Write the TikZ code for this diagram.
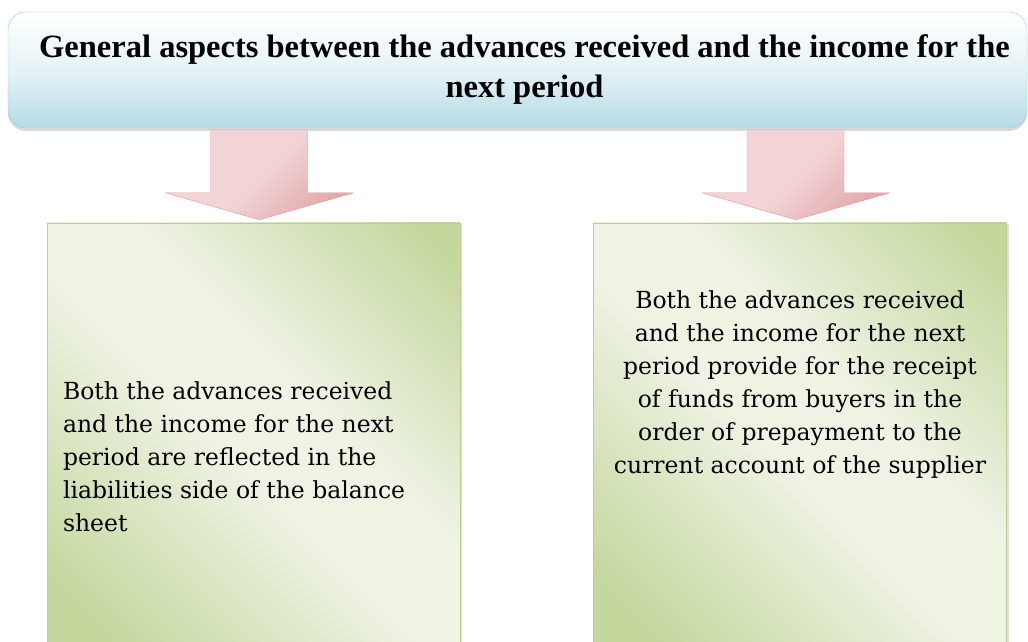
\documentclass[tikz,border=0pt]{standalone}
\usepackage{fontspec}
\setmainfont{Liberation Serif}
\newfontfamily\boxfont{DejaVu Serif}
\usetikzlibrary{calc,shadows}

\definecolor{headblue}{HTML}{B5DBE6}
\definecolor{headline}{HTML}{9FCCD9}
\definecolor{gdark}{HTML}{C4D79D}
\definecolor{glight}{HTML}{EEF3E4}
\definecolor{gline}{HTML}{B9CE93}
\definecolor{pinklight}{HTML}{F2D4D6}
\definecolor{pinkdark}{HTML}{E3A9AC}
\definecolor{pinkline}{HTML}{DB9A9D}

% wide pale band between two green corners
\pgfdeclarehorizontalshading{greenband}{100bp}{color(0bp)=(gdark); color(20bp)=(gdark);
  color(46bp)=(glight); color(58bp)=(glight); color(82bp)=(gdark);
  color(100bp)=(gdark)}

\tikzset{
  headbox/.style={draw=headline, rounded corners=18pt, top color=white,
    bottom color=headblue, middle color=headblue!35,
    minimum width=1019pt, minimum height=116pt,
    drop shadow={shadow xshift=0pt, shadow yshift=-3pt, opacity=0.3}},
  headtext/.style={align=center, inner sep=0pt,
    font=\fontsize{32.5}{40}\selectfont\bfseries},
  greenbox/.style={draw=gline, shading=greenband, shading angle=45,
    minimum width=413pt, minimum height=419pt,
    drop shadow={shadow xshift=2pt, shadow yshift=-1pt, opacity=0.25}},
  boxtext/.style={inner sep=0pt, font=\boxfont\fontsize{23.5}{33}\selectfont},
  downarrow/.style={draw=pinkline, left color=pinklight, right color=pinkdark,
    middle color=pinklight, shading angle=45, line join=round}
}

\begin{document}
\begin{tikzpicture}[x=1pt,y=1pt]
\useasboundingbox (0,0) rectangle (1028,642);

% Heading
\node[headbox] (head) at (517.5,572) {};
\node[headtext] (title) at ($(head.center)+(7,0)$)
  {General aspects between the advances received and the income for the\\ next period};

% Two boxes below
\node[greenbox] (lbox) at (253.5,209.5) {};
\node[greenbox] (rbox) at (800,209.5) {};

% Block arrows from heading to boxes
\foreach \b/\dx in {lbox/6, rbox/-4}
{
\coordinate (tip) at ($(\b.north)+(\dx,3)$);
\path[downarrow] (tip) -- ++(-94,27) -- ++(45,0) -- ++(0,63) -- ++(97,0)
  -- ++(0,-63) -- ++(46,0) -- cycle;
}

% Box texts
\node[boxtext, anchor=west, align=left] (ltext) at ($(lbox.west)+(16,-24.5)$)
  {Both the advances received\\ and the income for the next\\ period are reflected in the\\
   liabilities side of the balance\\ sheet};
\node[boxtext, align=center] (rtext) at ($(rbox.center)+(0,47.5)$)
  {Both the advances received\\ and the income for the next\\ period provide for the receipt\\
   of funds from buyers in the\\ order of prepayment to the\\ current account of the supplier};

\end{tikzpicture}
\end{document}
